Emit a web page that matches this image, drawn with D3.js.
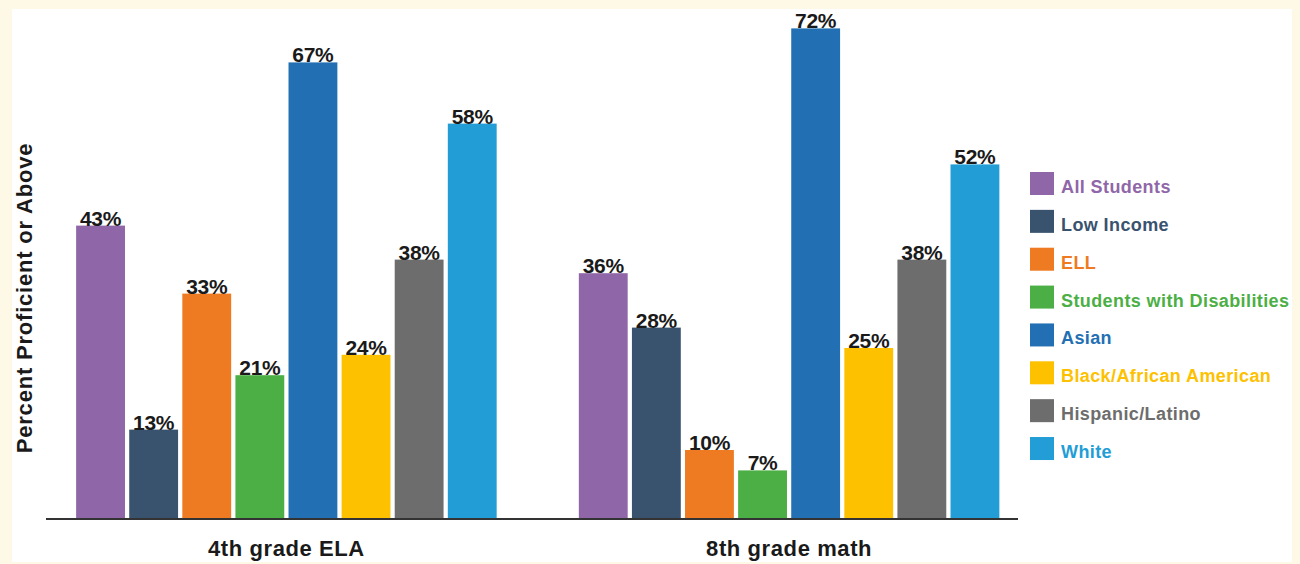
<!DOCTYPE html>
<html>
<head>
<meta charset="utf-8">
<script src="https://cdn.jsdelivr.net/npm/d3@7"></script>
<style>
  html, body { margin: 0; padding: 0; background: #fef8e6; }
  svg { display: block; font-family: "Liberation Sans", Arial, sans-serif; }
</style>
</head>
<body>
<section id="grafico"></section>
<script>
const groups = ["4th grade ELA", "8th grade math"];
const series = ["All Students", "Low Income", "ELL", "Students with Disabilities",
  "Asian", "Black/African American", "Hispanic/Latino", "White"];
const ela = [43, 13, 33, 21, 67, 24, 38, 58];
const math = [36, 28, 10, 7, 72, 25, 38, 52];
const colors = ["#8f67a8", "#39536e", "#ee7a22", "#4caf45", "#2270b3", "#fdc100", "#6d6d6d", "#239dd6"];

const values = [ela, math];

const width = 1300;
const height = 564;

const svg = d3.select("section#grafico")
  .append("svg")
  .attr("width", width)
  .attr("height", height);

// white panel on the cream page
svg.append("rect")
  .attr("x", 12).attr("y", 9)
  .attr("width", 1280).attr("height", 553)
  .attr("fill", "#ffffff");

const x0 = d3.scaleBand()
  .domain(groups)
  .range([74, 1001.5])
  .paddingInner(0.155);

const x1 = d3.scaleBand()
  .domain(series)
  .range([0, x0.bandwidth()])
  .paddingInner(0.08)
  .paddingOuter(0.04);

const y = d3.scaleLinear()
  .domain([0, 72])
  .range([518, 28.4]);

const g = svg.selectAll("g.group")
  .data(groups)
  .enter()
  .append("g")
  .attr("class", "group")
  .attr("transform", d => `translate(${x0(d)},0)`);

const bars = g.selectAll("g.bar")
  .data((d, i) => series.map((s, j) => ({ s, v: values[i][j], c: colors[j] })))
  .enter()
  .append("g")
  .attr("class", "bar");

bars.append("rect")
  .attr("x", d => x1(d.s))
  .attr("y", d => y(d.v))
  .attr("width", x1.bandwidth())
  .attr("height", d => y(0) - y(d.v))
  .attr("fill", d => d.c);

bars.append("text")
  .attr("x", d => x1(d.s) + x1.bandwidth() / 2)
  .attr("y", d => y(d.v))
  .attr("text-anchor", "middle")
  .attr("font-size", 21)
  .attr("font-weight", "bold")
  .attr("letter-spacing", -0.3)
  .attr("fill", "#1a1a1a")
  .text(d => d.v + "%");

// x axis
const xAxis = d3.axisBottom(x0).tickSize(0).tickPadding(0);
const ax = svg.append("g")
  .attr("transform", `translate(0,${y(0) + 1})`)
  .call(xAxis);
ax.select(".domain").remove();
ax.append("line")
  .attr("x1", 46).attr("x2", 1018)
  .attr("stroke", "#333").attr("stroke-width", 2);
ax.selectAll(".tick text")
  .attr("y", 37)
  .attr("dy", 0)
  .attr("font-size", 22)
  .attr("font-weight", "bold")
  .attr("letter-spacing", 0.6)
  .attr("font-family", "Liberation Sans, Arial, sans-serif")
  .attr("fill", "#1a1a1a");

// y label
svg.append("text")
  .attr("transform", "translate(32,298) rotate(-90)")
  .attr("text-anchor", "middle")
  .attr("font-size", 22)
  .attr("font-weight", "bold")
  .attr("letter-spacing", 0.8)
  .attr("fill", "#1a1a1a")
  .text("Percent Proficient or Above");

// legend
const legend = svg.append("g")
  .attr("transform", "translate(1030,172)");

const item = legend.selectAll("g")
  .data(series)
  .enter()
  .append("g")
  .attr("transform", (d, i) => `translate(0,${i * 37.86})`);

item.append("rect")
  .attr("width", 24).attr("height", 23)
  .attr("fill", (d, i) => colors[i]);

item.append("text")
  .attr("x", 31)
  .attr("y", 21)
  .attr("font-size", 18)
  .attr("font-weight", "bold")
  .attr("letter-spacing", 0.4)
  .attr("fill", (d, i) => colors[i])
  .text(d => d);
</script>
</body>
</html>
